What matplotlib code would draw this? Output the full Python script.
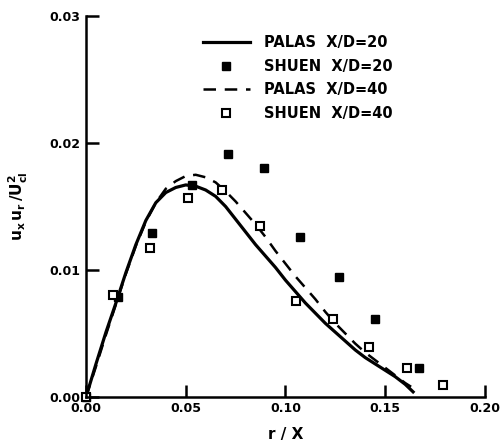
import matplotlib
matplotlib.use('Agg')
from matplotlib import pyplot as plt

# PALAS model curves
palas20_x = [0.000, 0.005, 0.010, 0.015, 0.020, 0.025, 0.030, 0.035, 0.040, 0.045,
             0.050, 0.055, 0.060, 0.065, 0.070, 0.075, 0.080, 0.085, 0.090, 0.095,
             0.100, 0.105, 0.110, 0.115, 0.120, 0.125, 0.130, 0.135, 0.140, 0.145,
             0.150, 0.155, 0.160, 0.164]
palas20_y = [0.0000, 0.0026, 0.0051, 0.0074, 0.0098, 0.0120, 0.0139, 0.0153, 0.0161, 0.0165,
             0.0167, 0.0166, 0.0163, 0.0158, 0.0150, 0.0140, 0.0130, 0.0120, 0.0111, 0.0102,
             0.0092, 0.0083, 0.0074, 0.0066, 0.0058, 0.0051, 0.0044, 0.0037, 0.0031, 0.0026,
             0.0021, 0.0016, 0.0010, 0.0004]

palas40_x = [0.000, 0.005, 0.010, 0.015, 0.020, 0.025, 0.030, 0.035, 0.040, 0.045,
             0.050, 0.055, 0.060, 0.065, 0.070, 0.075, 0.080, 0.085, 0.090, 0.095,
             0.100, 0.105, 0.110, 0.115, 0.120, 0.125, 0.130, 0.135, 0.140, 0.145,
             0.150, 0.155, 0.160, 0.163]
palas40_y = [0.0000, 0.0024, 0.0049, 0.0073, 0.0097, 0.0119, 0.0138, 0.0153, 0.0164, 0.0170,
             0.0174, 0.0175, 0.0173, 0.0169, 0.0162, 0.0154, 0.0145, 0.0136, 0.0126, 0.0115,
             0.0105, 0.0095, 0.0086, 0.0077, 0.0067, 0.0058, 0.0050, 0.0042, 0.0035, 0.0029,
             0.0023, 0.0017, 0.0011, 0.0008]

# SHUEN measurements
shuen20_x = [0.000, 0.016, 0.033, 0.053, 0.071, 0.089, 0.1075, 0.1266, 0.1447, 0.167]
shuen20_y = [0.0000, 0.0079, 0.0129, 0.0167, 0.0191, 0.0180, 0.0126, 0.00945, 0.0061, 0.0023]

shuen40_x = [0.000, 0.0136, 0.032, 0.051, 0.068, 0.087, 0.1055, 0.124, 0.142, 0.161, 0.179]
shuen40_y = [0.0000, 0.0080, 0.0117, 0.0157, 0.0163, 0.0135, 0.00756, 0.0061, 0.0039, 0.0023, 0.00094]

xticks = [0.00, 0.05, 0.10, 0.15, 0.20]
xticklabels = ['0.00', '0.05', '0.10', '0.15', '0.20']
yticks = [0.00, 0.01, 0.02, 0.03]
yticklabels = ['0.00', '0.01', '0.02', '0.03']

fig = plt.figure(figsize=(5.03, 4.47), dpi=100)
ax = fig.add_axes([0.171, 0.112, 0.793, 0.852])

ax.plot(palas20_x, palas20_y, color='black', linewidth=2.3, label='PALAS  X/D=20')
ax.plot(shuen20_x, shuen20_y, linestyle='none', marker='s', markersize=5.5,
        color='black', clip_on=False, label='SHUEN  X/D=20')
ax.plot(palas40_x, palas40_y, color='black', linewidth=1.8, dashes=(5, 3.5),
        label='PALAS  X/D=40')
ax.plot(shuen40_x, shuen40_y, linestyle='none', marker='s', markersize=5.5,
        markerfacecolor='white', markeredgecolor='black', markeredgewidth=1.5,
        clip_on=False, label='SHUEN  X/D=40')

ax.set_xlim(0, 0.20)
ax.set_ylim(0, 0.03)
ax.set_xticks(xticks)
ax.set_xticklabels(xticklabels, fontsize=9, fontweight='bold')
ax.set_yticks(yticks)
ax.set_yticklabels(yticklabels, fontsize=9, fontweight='bold')
ax.tick_params(direction='in', length=9, width=1.8, pad=4)

ax.spines['top'].set_visible(False)
ax.spines['right'].set_visible(False)
ax.spines['left'].set_linewidth(1.8)
ax.spines['bottom'].set_linewidth(1.8)

ax.set_xlabel('r / X', fontsize=11, fontweight='bold', labelpad=8)
ax.set_ylabel(r'$\mathbf{u_x\,u_r\,/U_{cl}^2}$', fontsize=11, labelpad=14)

ax.legend(loc='upper left', bbox_to_anchor=(0.26, 0.985), frameon=False,
          handlelength=3.2, handletextpad=1.0, labelspacing=0.6,
          prop={'weight': 'bold', 'size': 10.5})

plt.savefig('out.png', dpi=100)
